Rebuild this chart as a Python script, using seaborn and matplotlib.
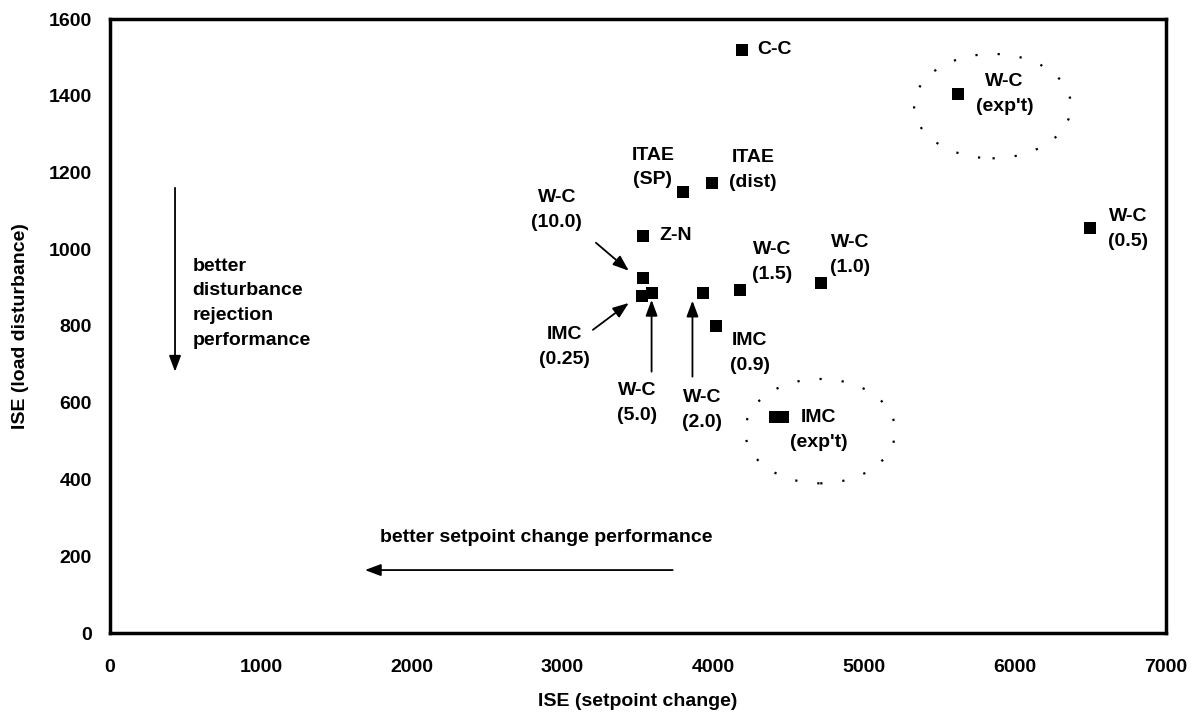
import matplotlib
matplotlib.use("Agg")
import matplotlib.pyplot as plt
from matplotlib.patches import Ellipse
import seaborn as sns
import pandas as pd

# ---- data ----
names = ["C-C", "W-C (exp't)", "W-C (0.5)", "W-C (1.0)", "W-C (1.5)",
         "ITAE (dist)", "ITAE (SP)", "Z-N", "W-C (10.0)", "IMC (0.25)",
         "W-C (5.0)", "W-C (2.0)", "IMC (0.9)", "IMC (exp't) a", "IMC (exp't) b"]
ise_setpoint = [4190, 5620, 6495, 4715, 4175, 3990, 3795, 3535, 3530, 3525,
                3590, 3930, 4020, 4410, 4460]
ise_load = [1520, 1405, 1055, 912, 893, 1173, 1148, 1035, 925, 879,
            887, 885, 800, 564, 564]

label_texts = ["C-C", "W-C\n(exp't)", "W-C\n(0.5)", "W-C\n(1.0)", "W-C\n(1.5)",
               "ITAE\n(dist)", "ITAE\n(SP)", "Z-N", "W-C\n(10.0)", "IMC\n(0.25)",
               "W-C\n(5.0)", "W-C\n(2.0)", "IMC\n(0.9)", "IMC\n(exp't)"]
label_x = [4290, 5931, 6750, 4904, 4387, 4261, 3598, 3640, 2962, 3015,
           3492, 3923, 4241, 4698]
label_y = [1520, 1405, 1053, 986, 967, 1207, 1213, 1035, 1103, 746,
           600, 581, 730, 529]
label_ha = ["left", "center", "center", "center", "center", "center", "center",
            "left", "center", "center", "center", "center", "center", "center"]

x_ticks = [0, 1000, 2000, 3000, 4000, 5000, 6000, 7000]
y_ticks = [0, 200, 400, 600, 800, 1000, 1200, 1400, 1600]

df = pd.DataFrame({"sp": ise_setpoint, "ld": ise_load})

sns.set_theme(style="white")
plt.rcParams["font.family"] = ["Liberation Sans", "DejaVu Sans"]
plt.rcParams["text.color"] = "black"
plt.rcParams["axes.labelcolor"] = "black"
plt.rcParams["xtick.color"] = "black"
plt.rcParams["ytick.color"] = "black"

FS = 14
LS = 1.6

fig = plt.figure(figsize=(12.03, 7.2), dpi=100)
ax = fig.add_axes([110/1203, 1-633/720, (1166-110)/1203, (633-19)/720])

sns.scatterplot(data=df, x="sp", y="ld", marker="s", color="black", s=66,
                edgecolor="black", linewidth=0, ax=ax, legend=False)

ax.set_xlim(0, 7000)
ax.set_ylim(0, 1600)
ax.set_xticks(x_ticks)
ax.set_yticks(y_ticks)
ax.tick_params(axis="both", labelsize=FS, length=3, width=1, color="black",
               direction="out", labelcolor="black")
ax.tick_params(axis="x", pad=16)
ax.tick_params(axis="y", pad=10)
for lab in ax.get_xticklabels() + ax.get_yticklabels():
    lab.set_fontweight("bold")
for sp in ax.spines.values():
    sp.set_linewidth(2.5)
    sp.set_color("black")

ax.set_xlabel("ISE (setpoint change)", fontsize=FS, fontweight="bold", labelpad=12,
              color="black")
ax.set_ylabel("ISE (load disturbance)", fontsize=FS, fontweight="bold", labelpad=14,
              color="black")

for t, x, y, ha in zip(label_texts, label_x, label_y, label_ha):
    ax.text(x, y, t, ha=ha, va="center", fontsize=FS, fontweight="bold",
            linespacing=LS, color="black")

# annotation arrows
arrow_kw = dict(arrowstyle="-|>,head_length=0.8,head_width=0.3", color="black", lw=1.3,
                shrinkA=0, shrinkB=0)
ax.annotate("", xy=(3439, 944), xytext=(3221, 1017), arrowprops=arrow_kw)
ax.annotate("", xy=(3439, 860), xytext=(3201, 790), arrowprops=arrow_kw)
ax.annotate("", xy=(3590, 868), xytext=(3590, 681), arrowprops=arrow_kw)
ax.annotate("", xy=(3861, 866), xytext=(3861, 668), arrowprops=arrow_kw)
ax.annotate("", xy=(431, 681), xytext=(431, 1160), arrowprops=arrow_kw)
ax.annotate("", xy=(1690, 164), xytext=(3730, 164), arrowprops=arrow_kw)

ax.text(547, 859, "better\ndisturbance\nrejection\nperformance", ha="left", va="center",
        fontsize=FS, fontweight="bold", linespacing=LS, color="black")
ax.text(2890, 248, "better setpoint change performance", ha="center", va="center",
        fontsize=FS, fontweight="bold", color="black")

# dotted ellipses
for cx, cy, w, h in [(5850, 1373, 1040, 272), (4708, 526, 995, 272)]:
    ax.add_patch(Ellipse((cx, cy), w, h, fill=False, edgecolor="black",
                         linewidth=1.6, linestyle=(0, (1, 9))))

fig.savefig("out.png", dpi=100)
